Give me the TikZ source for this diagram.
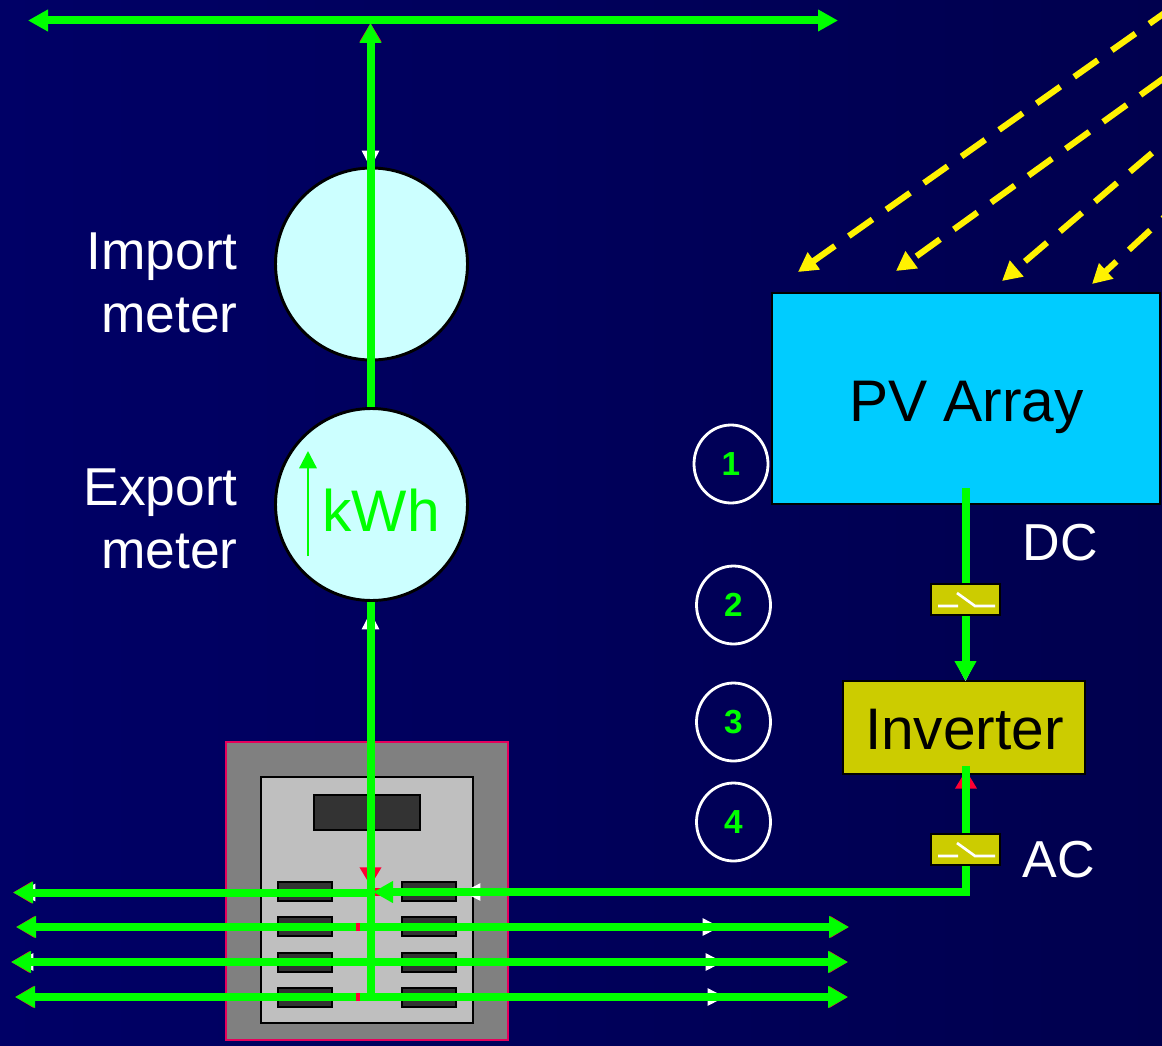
\documentclass[tikz,border=0pt]{standalone}
\usepackage{fontspec}
\setmainfont{Liberation Sans}
\usetikzlibrary{arrows.meta}
\usetikzlibrary{shapes.geometric}
\definecolor{bgleft}{HTML}{000066}
\definecolor{bgright}{HTML}{00004E}
\definecolor{wiregreen}{HTML}{00FF00}
\definecolor{wirered}{HTML}{FF0033}
\definecolor{panelrim}{HTML}{E6005C}
\definecolor{meterblue}{HTML}{CCFFFF}
\definecolor{pvblue}{HTML}{00CCFF}
\definecolor{olive}{HTML}{CCCC00}
\tikzset{
	wire/.style={line width=6pt, wiregreen, >={Triangle[length=15pt,width=15.5pt]}},
	redwire/.style={line width=6pt, wirered, >={Triangle[length=14pt,width=15.5pt]}},
	whitetip/.style={line width=1pt, white, ->, >={Triangle[length=13pt,width=13pt]}},
	sunray/.style={line width=4.6pt, yellow, ->, >={Triangle[length=14.5pt,width=15pt]}, dash pattern=on 21.75pt off 12.75pt},
	meter/.style={circle, draw=black, line width=2.2pt, fill=meterblue, minimum size=144pt, inner sep=0pt},
	bigbox/.style={draw=black, line width=2.2pt, inner sep=0pt},
	boxtext/.style={inner sep=0pt, font=\fontsize{44}{44}\selectfont},
	switchbox/.style={draw=black, line width=1.7pt, fill=olive, minimum width=51.75pt, minimum height=23.25pt, inner sep=0pt},
	stepring/.style={ellipse, draw=white, line width=2.1pt, minimum width=55.5pt, minimum height=58.5pt, inner sep=0pt, text=wiregreen, font=\fontsize{25}{25}\selectfont\bfseries},
	sidelabel/.style={anchor=east, align=right, text=white, inner sep=0pt, font=\fontsize{40}{47}\selectfont},
	breaker/.style={draw=black, line width=1.5pt, fill=black!80},
}
\begin{document}
\begin{tikzpicture}[x=0.75pt, y=-0.75pt]
	\useasboundingbox (0,0) rectangle (1162,1045);
	\clip (0,0) rectangle (1162,1045);
	\shade[left color=bgleft, right color=bgright] (0,0) rectangle (1162,1045);

	% switchboard
	\draw[panelrim, line width=1.8pt, fill=black!50] (226,742) rectangle (508,1040);
	\draw[black, line width=1.5pt, fill=black!25] (261,777) rectangle (473,1023);
	\draw[breaker] (314,795) rectangle (420,830);
	\foreach \y in {882,917,953,988} {
		\draw[breaker] (278,\y) rectangle (332,\y+19);
		\draw[breaker] (402,\y) rectangle (456,\y+19);
	}

	% sun
	\coordinate (sunA) at (1173,7);
	\coordinate (sunB) at (1164,78);
	\coordinate (sunC) at (1152,153);
	\coordinate (sunD) at (1184,199);
	\coordinate (pvA) at (798,272);
	\coordinate (pvB) at (896,271);
	\coordinate (pvC) at (1002,281);
	\coordinate (pvD) at (1092,284);
	\draw[sunray] (sunA) -- (pvA);
	\draw[sunray] (sunB) -- (pvB);
	\draw[sunray] (sunC) -- (pvC);
	\draw[sunray] (sunD) -- (pvD);

	% boxes
	\node[bigbox, fill=pvblue, minimum width=291pt, minimum height=158.25pt] (pv) at (966,398.5) {};
	\node[bigbox, fill=olive, minimum width=181.5pt, minimum height=69.75pt] (inverter) at (964,727.5) {};
	\node[boxtext] (pvtext) at (966.5,407.5) {PV Array};
	\node[boxtext] (invtext) at (964.5,729.5) {Inverter};

	% junction points
	\coordinate (busL) at (28,20.5);
	\coordinate (busR) at (838,20.5);
	\coordinate (busM) at (370.5,23);
	\coordinate (boardM) at (370.5,1001);
	\coordinate (junction) at (373,892);
	\coordinate (rowA) at (13,892.5);
	\coordinate (feedM) at (370.5,892.5);
	\coordinate (corner) at (966,892);
	\coordinate (pvout) at (965.5,488);
	\coordinate (invin) at (965.5,681);
	\coordinate (invout) at (966,766);
	\coordinate (invred) at (966,770);
	\coordinate (redtip) at (370.5,886);

	% white tips under the wires
	\foreach \xa/\ya/\xb/\yb in {370.5/70/370.5/25, 370.5/130/370.5/168, 370.5/650/370.5/612, 965.5/640/965.5/681, 55/892.5/18/892.5, 53/962/16/962, 500/892/463/892, 680/927/720/927, 680/962/723/962, 680/997/725/997} {
		\draw[whitetip] (\xa,\ya) -- (\xb,\yb);
	}

	% red wires
	\begin{scope}[xshift=1.1pt]
		\draw[redwire, <->] (busM) -- (redtip);
	\end{scope}
	\begin{scope}[xshift=-1pt, yshift=1pt]
		\draw[redwire, ->] (corner) -- (invred);
		\draw[redwire] (corner) -- (junction);
	\end{scope}

	\node[meter] (import) at (371.5,264) {};

	% rows
	\foreach \n/\y/\xa/\xb in {B/927/16/849, C/962/11/848, D/997/15/848} {
		\coordinate (left\n) at (\xa,\y);
		\coordinate (right\n) at (\xb,\y);
		\coordinate (stub\n) at (356,\y);
		\coordinate (gap\n) at (360,\y);
		\draw[redwire, <->, yshift=0.7pt] (left\n) -- (right\n);
	}
	\draw[redwire, ->, yshift=0.7pt] (feedM) -- (rowA);
	\draw[wire, ->] (feedM) -- (rowA);
	\draw[wire, ->] (stubB) -- (leftB);
	\draw[wire, ->] (gapB) -- (rightB);
	\draw[wire, <->] (leftC) -- (rightC);
	\draw[wire, ->] (stubD) -- (leftD);
	\draw[wire, ->] (gapD) -- (rightD);

	% green wires
	\draw[wire, ->] (invout) -- (corner) -- (junction);
	\draw[wire, ->] (pvout) -- (invin);
	\draw[wire, <->] (busL) -- (busR);
	\draw[wire, ->] (boardM) -- (busM);

	% meters
	\node[meter] (export) at (371.5,504.5) {};
	\node[boxtext, text=wiregreen] (kwh) at (381,510) {kWh};
	\coordinate (flowA) at (308,556);
	\coordinate (flowB) at (308,451);
	\draw[wiregreen, line width=1.7pt, -{Triangle[length=13pt,width=13pt]}] (flowA) -- (flowB);
	\node[sidelabel] (importlabel) at (238,283) {Import\\meter};
	\node[sidelabel] (exportlabel) at (238,519) {Export\\meter};

	% switches
	\foreach \name/\y in {dcswitch/599.5, acswitch/849.5} {
		\node[switchbox] (\name) at (965.5,\y) {};
		\draw[white, line width=2pt] (938,\y+6.5) -- (958,\y+6.5) (957,\y-6.5) -- (975,\y+6.5) -- (995,\y+6.5);
	}
	\node[text=white, inner sep=0pt, font=\fontsize{39}{39}\selectfont] (dc) at (1060,543) {DC};
	\node[text=white, inner sep=0pt, font=\fontsize{39}{39}\selectfont] (ac) at (1059,860) {AC};

	% numbers
	\node[stepring] (one) at (731,464) {1};
	\node[stepring] (two) at (733.5,605) {2};
	\node[stepring] (three) at (733.5,722) {3};
	\node[stepring] (four) at (733.5,822) {4};
\end{tikzpicture}
\end{document}
